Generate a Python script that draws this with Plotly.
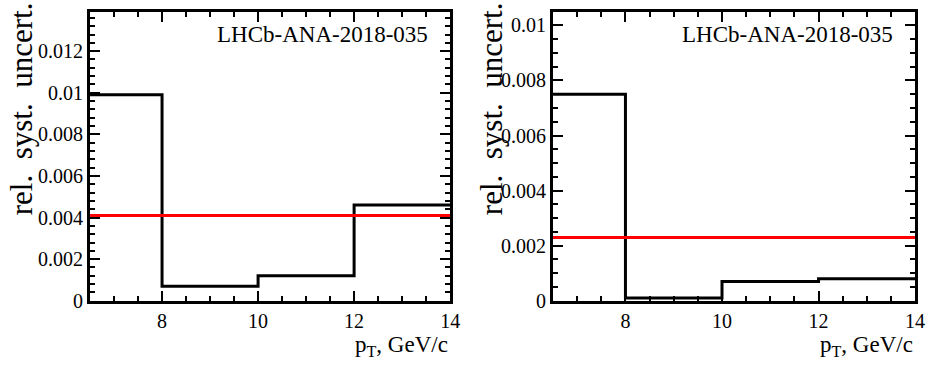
import plotly.graph_objects as go

# bin edges in pT (GeV/c) and relative systematic uncertainties per bin
pt_edges = [6.5, 8, 10, 12, 14]
syst_left = [0.0099, 0.0007, 0.0012, 0.0046]
syst_right = [0.0075, 0.0001, 0.0007, 0.0008]
# red horizontal line (average)
avg_left = 0.0041
avg_right = 0.0023

ytick_left = [0, 0.002, 0.004, 0.006, 0.008, 0.01, 0.012]
ytext_left = ['0', '0.002', '0.004', '0.006', '0.008', '0.01', '0.012']
ytick_right = [0, 0.002, 0.004, 0.006, 0.008, 0.01]
ytext_right = ['0', '0.002', '0.004', '0.006', '0.008', '0.01']
xtick = [8, 10, 12, 14]
xtext = ['8', '10', '12', '14']

label = 'LHCb-ANA-2018-035'
ytitle = 'rel.&nbsp; syst.&nbsp; uncert.'
xtitle = 'p<sub>T</sub>, GeV/c'

FONT = 'Liberation Serif'
W, H = 936, 369

fig = go.Figure()


def step(vals):
    # repeat last value so the hv line reaches the right edge
    return vals + [vals[-1]]


fig.add_trace(go.Scatter(x=pt_edges, y=step(syst_left), mode='lines', line_shape='hv',
                         line=dict(color='black', width=3), xaxis='x', yaxis='y'))
fig.add_trace(go.Scatter(x=[pt_edges[0], pt_edges[-1]], y=[avg_left, avg_left], mode='lines',
                         line=dict(color='red', width=3), xaxis='x', yaxis='y'))
fig.add_trace(go.Scatter(x=pt_edges, y=step(syst_right), mode='lines', line_shape='hv',
                         line=dict(color='black', width=3), xaxis='x2', yaxis='y2'))
fig.add_trace(go.Scatter(x=[pt_edges[0], pt_edges[-1]], y=[avg_right, avg_right], mode='lines',
                         line=dict(color='red', width=3), xaxis='x2', yaxis='y2'))

ax_common = dict(showline=True, mirror='allticks', linewidth=3, linecolor='black',
                 showgrid=False, zeroline=False, ticks='inside', ticklen=10, tickwidth=2,
                 tickcolor='black', tickfont=dict(family=FONT, size=20, color='black'))

x_common = dict(ax_common, range=[6.5, 14], tickvals=xtick, ticktext=xtext,
                minor=dict(dtick=0.5, ticklen=5, tickwidth=2, ticks='inside', tickcolor='black'))


def px(x):
    return x / W


def py(y):
    return 1 - y / H


ydom = [py(310), py(12)]

fig.update_layout(
    width=W, height=H,
    margin=dict(l=0, r=0, t=0, b=0),
    font=dict(family=FONT, color='black'),
    paper_bgcolor='white', plot_bgcolor='white',
    showlegend=False,
    xaxis=dict(x_common, domain=[px(91), px(455)], anchor='y'),
    yaxis=dict(ax_common, domain=ydom, anchor='x', range=[0, 0.0139],
               tickvals=ytick_left, ticktext=ytext_left,
               minor=dict(dtick=0.0004, ticklen=5, tickwidth=2, ticks='inside', tickcolor='black')),
    xaxis2=dict(x_common, domain=[px(559), px(925)], anchor='y2'),
    yaxis2=dict(ax_common, domain=ydom, anchor='x2', range=[0, 0.0105],
                tickvals=ytick_right, ticktext=ytext_right,
                minor=dict(dtick=0.0005, ticklen=5, tickwidth=2, ticks='inside', tickcolor='black')),
)

for xa, ya, ytx in [('x', 'y', 22), ('x2', 'y2', 497)]:
    fig.add_annotation(text=label, xref=xa + ' domain', yref=ya + ' domain', x=0.945, y=0.97,
                       xanchor='right', yanchor='top', showarrow=False,
                       font=dict(family=FONT, size=23, color='black'))
    fig.add_annotation(text=xtitle, xref=xa + ' domain', yref='paper', x=1.0, y=0.0,
                       xanchor='right', yanchor='bottom', yshift=-4, showarrow=False,
                       font=dict(family=FONT, size=23, color='black'))
    fig.add_annotation(text=ytitle, xref='paper', yref='paper', x=px(ytx), y=1.0,
                       xanchor='center', yanchor='top', textangle=-90, showarrow=False,
                       font=dict(family=FONT, size=31, color='black'))

# drop the default 8px page margin so the 936x369 figure fills the window
fig.write_html('out.html', config={'displayModeBar': False},
               post_script="document.body.style.margin='0';")
